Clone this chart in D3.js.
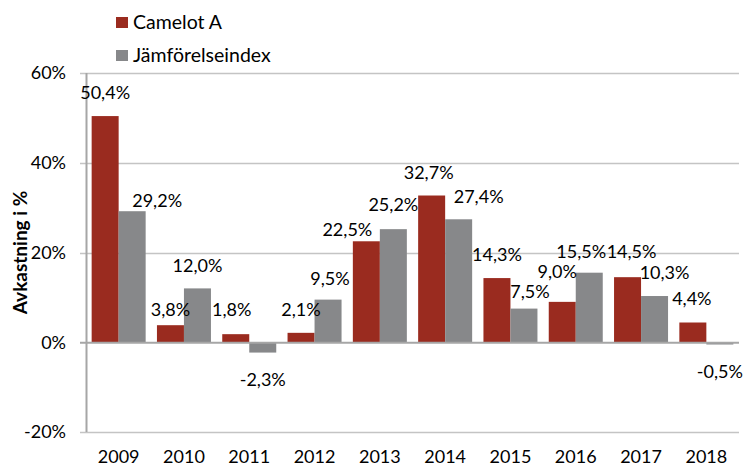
<!DOCTYPE html>
<html>
<head>
<meta charset="utf-8">
<script src="https://cdn.jsdelivr.net/npm/d3@7"></script>
<style>
  body { margin: 0; background: #fff; }
  svg text { font-family: Lato, "Open Sans", sans-serif; fill: #000; }
</style>
</head>
<body>
<div id="chart"></div>
<script>
const years = ["2009", "2010", "2011", "2012", "2013", "2014", "2015", "2016", "2017", "2018"];
const camelot = [50.4, 3.8, 1.8, 2.1, 22.5, 32.7, 14.3, 9.0, 14.5, 4.4];
const index = [29.2, 12.0, -2.3, 9.5, 25.2, 27.4, 7.5, 15.5, 10.3, -0.5];
const seriesNames = ["Camelot A", "Jämförelseindex"];
const yTicks = [-20, 0, 20, 40, 60];

// label nudges (px) where the labels were moved by hand in the original
const camelotNudge = [[0, 0], [0, 8], [-4, -1], [0, 0], [-19, 11], [-3, 0], [0, 0], [-5, -7], [4, -2], [-1, -1]];
const indexNudge = [[25, 12], [0, 0], [0, 0], [2, 2], [0, -1], [20, 0], [6, 6], [-8, 2], [10, 0], [0, 0]];

const colors = ["#9a2b1f", "#87888a"];
const width = 745, height = 468;
const margin = { top: 73, right: 6, bottom: 36, left: 86 };

const svg = d3.select("#chart").append("svg")
  .attr("width", width)
  .attr("height", height);

const x = d3.scaleBand()
  .domain(years)
  .range([margin.left, width - margin.right])
  .paddingInner(0.173)
  .paddingOuter(0.0865);

const xs = d3.scaleBand()
  .domain([0, 1])
  .range([0, x.bandwidth()]);

const y = d3.scaleLinear()
  .domain([-20, 60])
  .range([height - margin.bottom, margin.top]);

const fmt = v => v.toFixed(1).replace(".", ",") + "%";

// gridlines
svg.append("g")
  .selectAll("line")
  .data(yTicks.filter(t => t !== 0))
  .enter()
  .append("line")
  .attr("x1", margin.left - 6)
  .attr("x2", width - margin.right)
  .attr("y1", d => Math.round(y(d)) + 0.5)
  .attr("y2", d => Math.round(y(d)) + 0.5)
  .attr("stroke", "#c4c4c4")
  .attr("stroke-width", 1.5);

// y tick labels
svg.append("g")
  .selectAll("text")
  .data(yTicks)
  .enter()
  .append("text")
  .attr("x", margin.left - 20)
  .attr("y", d => y(d))
  .attr("dy", "0.35em")
  .attr("text-anchor", "end")
  .attr("font-size", 18)
  .text(d => d + "%");

// bars
const series = [camelot, index];
series.forEach((vals, s) => {
  svg.append("g")
    .selectAll("rect")
    .data(vals)
    .enter()
    .append("rect")
    .attr("x", (d, i) => x(years[i]) + xs(s))
    .attr("width", xs.bandwidth())
    .attr("y", d => y(Math.max(d, 0)))
    .attr("height", d => Math.abs(y(d) - y(0)))
    .attr("fill", colors[s]);
});

// axis lines
svg.append("line")
  .attr("x1", margin.left + 0.5).attr("x2", margin.left + 0.5)
  .attr("y1", y(60)).attr("y2", y(-20))
  .attr("stroke", "#a6a6a6")
  .attr("stroke-width", 2);

svg.append("line")
  .attr("x1", margin.left - 6)
  .attr("x2", width - margin.right)
  .attr("y1", y(0) + 0.5).attr("y2", y(0) + 0.5)
  .attr("stroke", "#a6a6a6")
  .attr("stroke-width", 2);

// data labels
const nudges = [camelotNudge, indexNudge];
series.forEach((vals, s) => {
  svg.append("g")
    .selectAll("text")
    .data(vals)
    .enter()
    .append("text")
    .attr("x", (d, i) => x(years[i]) + xs(s) + xs.bandwidth() / 2 + nudges[s][i][0])
    .attr("y", (d, i) => (d >= 0 ? y(d) - 23 : y(d) + 27) + nudges[s][i][1])
    .attr("dy", "0.35em")
    .attr("text-anchor", "middle")
    .attr("font-size", 18)
    .text(d => fmt(d));
});

// x labels
svg.append("g")
  .selectAll("text")
  .data(years)
  .enter()
  .append("text")
  .attr("x", d => x(d) + x.bandwidth() / 2)
  .attr("y", 457)
  .attr("dy", "0.35em")
  .attr("text-anchor", "middle")
  .attr("font-size", 18)
  .text(d => d);

// y title
svg.append("text")
  .attr("transform", `translate(20,${(y(60) + y(-20)) / 2}) rotate(-90)`)
  .attr("dy", "0.35em")
  .attr("text-anchor", "middle")
  .attr("font-size", 19)
  .attr("font-weight", "bold")
  .text("Avkastning i %");

// legend
const legend = svg.append("g")
  .selectAll("g")
  .data(seriesNames)
  .enter()
  .append("g")
  .attr("transform", (d, i) => `translate(116,${17 + i * 33})`);

legend.append("rect")
  .attr("width", 12)
  .attr("height", 11)
  .attr("fill", (d, i) => colors[i]);

legend.append("text")
  .attr("x", 17)
  .attr("y", 5.5)
  .attr("dy", "0.35em")
  .attr("font-size", 19.5)
  .text(d => d);
</script>
</body>
</html>
